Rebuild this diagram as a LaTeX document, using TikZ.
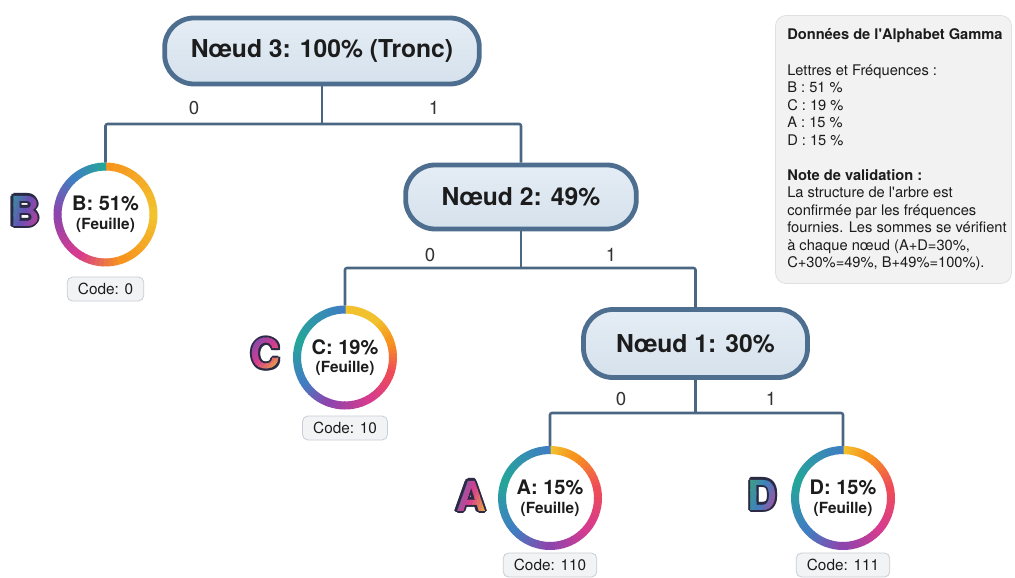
\documentclass[tikz,border=0pt]{standalone}
\usepackage{fontspec}
\setmainfont{TeX Gyre Heros}
\usetikzlibrary{calc}

% palette
\definecolor{linkcol}{HTML}{4A6682}
\definecolor{boxline}{HTML}{4D6E8E}
\definecolor{boxtop}{HTML}{E5EDF5}
\definecolor{boxbot}{HTML}{D5E1EC}
\definecolor{codefill}{HTML}{F1F3F5}
\definecolor{codeline}{HTML}{C9CED4}
\definecolor{infofill}{HTML}{F2F2F3}
\definecolor{infoline}{HTML}{E0E0E3}
\definecolor{inktext}{HTML}{1C1C1C}
\definecolor{letterline}{HTML}{2B2A45}
\definecolor{gOr}{HTML}{F7941D}
\definecolor{gYe}{HTML}{F2C12E}
\definecolor{gRe}{HTML}{EE4B5A}
\definecolor{gMa}{HTML}{D63B8F}
\definecolor{gPu}{HTML}{8E44AD}
\definecolor{gVi}{HTML}{6A4FB5}
\definecolor{gBl}{HTML}{3F7FC1}
\definecolor{gTe}{HTML}{25A59A}
\definecolor{gGr}{HTML}{3DAA6D}

\tikzset{
  treenode/.style={draw=boxline, line width=3.6pt, rounded corners=22pt,
    top color=boxtop, bottom color=boxbot, text=inktext, inner sep=0pt,
    font=\fontsize{18.5}{20}\selectfont\bfseries},
  leaf/.style={circle, fill=white, minimum size=78pt, inner sep=0pt, outer sep=0pt,
    align=center, text=inktext, font=\fontsize{11.5}{14}\selectfont\bfseries},
  codebox/.style={draw=codeline, line width=0.6pt, fill=codefill, rounded corners=4pt,
    minimum height=18pt, inner xsep=8pt, inner ysep=0pt, text=inktext,
    font=\fontsize{11.5}{12}\selectfont},
  bit/.style={font=\fontsize{14}{14}\selectfont, text=black!80, inner sep=0pt},
  link/.style={draw=linkcol, line width=1.9pt, rounded corners=1.5pt},
  bigletter/.style={font=\fontsize{31}{31}\selectfont\bfseries, inner sep=0pt},
  infotext/.style={anchor=base west, inner sep=0pt, text=inktext,
    font=\fontsize{11}{13}\selectfont},
}

% one stretch of a colour ring: node, from angle, to angle (clockwise from top), two colours
\newcommand\ringpart[5]{%
  \foreach \k in {0,...,9}{%
    \pgfmathsetmacro\ringa{#2-90+(#3-#2)*\k/10}%
    \pgfmathsetmacro\ringb{#2-90+(#3-#2)*(\k+1)/10+0.8}%
    \pgfmathtruncatemacro\ringp{100-100*\k/9}%
    \draw[line width=6pt, color=#4!\ringp!#5]
      ([shift={(\ringa:48)}]#1.center) arc[start angle=\ringa, end angle=\ringb, radius=48];
  }}

% large outlined letter with a banded colour fill
\newcommand\rainbowletter[8]{%
  \coordinate (#1) at (#2,#3);
  \foreach \i in {1,...,8}{%
    \node[bigletter, text=letterline] (#1-edge\i) at ([shift={(\i*45:1.6pt)}]#1) {#4};
  }%
  \foreach \k in {0,...,13}{%
    \ifnum\k<7
      \pgfmathtruncatemacro\bandp{100-100*\k/6.5}\colorlet{bandcol}{#6!\bandp!#7}%
    \else
      \pgfmathtruncatemacro\bandp{100-100*(\k-6.5)/6.5}\colorlet{bandcol}{#7!\bandp!#8}%
    \fi
    \begin{scope}
      \clip[rotate around={#5:(#1)}] ([shift={(-24+48*\k/14,-34)}]#1) rectangle ++(48/14+0.4,68);
      \node[bigletter, text=bandcol] (#1-band\k) at (#1) {#4};
    \end{scope}
  }}

\begin{document}
\begin{tikzpicture}[x=0.75pt, y=-0.75pt]
\path[use as bounding box, fill=white] (0,0) rectangle (1015,578);

% internal nodes
\node[treenode, minimum width=236pt, minimum height=49.5pt] (n3) at (322,51) {Nœud 3: 100\% (Tronc)};
\node[treenode, minimum width=173pt, minimum height=48pt] (n2) at (521,197) {Nœud 2: 49\%};
\node[treenode, minimum width=168pt, minimum height=51pt] (n1) at (695.5,343.5) {Nœud 1: 30\%};

% leaves
\node[leaf] (leafB) at (105.5,214.5) {{\fontsize{15}{15}\selectfont B: 51\%}\\(Feuille)};
\node[leaf] (leafC) at (345,357.5) {{\fontsize{15}{15}\selectfont C: 19\%}\\(Feuille)};
\node[leaf] (leafA) at (550,498) {{\fontsize{15}{15}\selectfont A: 15\%}\\(Feuille)};
\node[leaf] (leafD) at (843,498) {{\fontsize{15}{15}\selectfont D: 15\%}\\(Feuille)};

% branches
\coordinate (j3) at (322,124);
\coordinate (j2) at (521,268);
\coordinate (j1) at (695.5,413);
\draw[link] (n3.south) -- (j3);
\draw[link] (leafB.north) |- (j3) -| (n2.north);
\draw[link] (n2.south) -- (j2);
\draw[link] (leafC.north) |- (j2) -| (n1.north);
\draw[link] (n1.south) -- (j1);
\draw[link] (leafA.north) |- (j1) -| (leafD.north);

% branch bits
\node[bit] (b30) at (194,108) {0};
\node[bit] (b31) at (434,108) {1};
\node[bit] (b20) at (430,255) {0};
\node[bit] (b21) at (611,255) {1};
\node[bit] (b10) at (621,399) {0};
\node[bit] (b11) at (771,399) {1};

% colour rings
\ringpart{leafB}{0}{90}{gOr}{gYe}
\ringpart{leafB}{90}{160}{gYe}{gOr}
\ringpart{leafB}{160}{215}{gOr}{gMa}
\ringpart{leafB}{215}{270}{gMa}{gPu}
\ringpart{leafB}{270}{320}{gPu}{gBl}
\ringpart{leafB}{320}{360}{gBl}{gTe}

\ringpart{leafC}{0}{40}{gYe}{gYe}
\ringpart{leafC}{40}{70}{gYe}{gOr}
\ringpart{leafC}{70}{110}{gOr}{gRe}
\ringpart{leafC}{110}{150}{gRe}{gMa}
\ringpart{leafC}{150}{200}{gMa}{gPu}
\ringpart{leafC}{200}{240}{gPu}{gBl}
\ringpart{leafC}{240}{290}{gBl}{gTe}
\ringpart{leafC}{290}{360}{gTe}{gBl}

\ringpart{leafA}{0}{30}{gYe}{gOr}
\ringpart{leafA}{30}{80}{gOr}{gRe}
\ringpart{leafA}{80}{130}{gRe}{gMa}
\ringpart{leafA}{130}{180}{gMa}{gPu}
\ringpart{leafA}{180}{230}{gPu}{gBl}
\ringpart{leafA}{230}{290}{gBl}{gTe}
\ringpart{leafA}{290}{360}{gTe}{gBl}

\ringpart{leafD}{0}{30}{gYe}{gOr}
\ringpart{leafD}{30}{80}{gOr}{gRe}
\ringpart{leafD}{80}{130}{gRe}{gMa}
\ringpart{leafD}{130}{180}{gMa}{gPu}
\ringpart{leafD}{180}{230}{gPu}{gBl}
\ringpart{leafD}{230}{290}{gBl}{gTe}
\ringpart{leafD}{290}{360}{gTe}{gBl}

% codes
\node[codebox] (codeB) at (105.5,289) {Code: 0};
\node[codebox] (codeC) at (345,428) {Code: 10};
\node[codebox] (codeA) at (550,565) {Code: 110};
\node[codebox] (codeD) at (843,565) {Code: 111};

% big letters
\rainbowletter{glyphB}{25}{211}{B}{-20}{gTe}{gVi}{gMa}
\rainbowletter{glyphC}{265.5}{353.5}{C}{-45}{gVi}{gMa}{gYe}
\rainbowletter{glyphA}{471}{496}{A}{-20}{gBl}{gMa}{gYe}
\rainbowletter{glyphD}{762.5}{495}{D}{-20}{gGr}{gBl}{gMa}

% data panel
\node[draw=infoline, fill=infofill, rounded corners=8pt, line width=0.6pt,
      minimum width=177pt, minimum height=201pt, inner sep=0pt] (info) at (893.5,149.5) {};
\node[infotext, font=\fontsize{11}{13}\selectfont\bfseries] (i0) at (787,40) {Données de l\textquotesingle Alphabet Gamma};
\node[infotext] (i1) at (787,75) {Lettres et Fréquences :};
\node[infotext] (i2) at (787,92.5) {B : 51 \%};
\node[infotext] (i3) at (787,110) {C : 19 \%};
\node[infotext] (i4) at (787,127.5) {A : 15 \%};
\node[infotext] (i5) at (787,145) {D : 15 \%};
\node[infotext, font=\fontsize{11}{13}\selectfont\bfseries] (i6) at (787,180) {Note de validation :};
\node[infotext] (i7) at (787,197.5) {La structure de l\textquotesingle arbre est};
\node[infotext] (i8) at (787,215) {confirmée par les fréquences};
\node[infotext] (i9) at (787,232.5) {fournies. Les sommes se vérifient};
\node[infotext] (i10) at (787,250) {à chaque nœud (A+D=30\%,};
\node[infotext] (i11) at (787,267.5) {C+30\%=49\%, B+49\%=100\%).};
\end{tikzpicture}
\end{document}
